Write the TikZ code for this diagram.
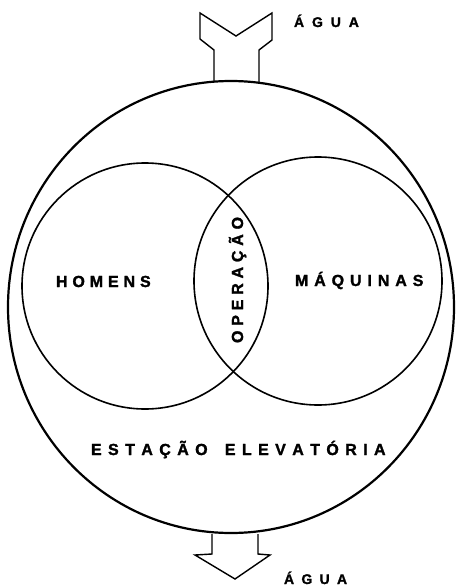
\documentclass[tikz,border=0pt]{standalone}
\usepackage{fontspec}
\usetikzlibrary{shapes.geometric}
\newfontfamily\lettering{Liberation Sans Bold}[FakeBold=1.6]
\newlength\lsp
\setlength\lsp{5.5pt}
\newcommand\spaced[1]{\spacedi#1\relax}
\def\spacedi#1{\ifx#1\relax\else#1\kern\lsp\expandafter\spacedi\fi}
\begin{document}
\begin{tikzpicture}[x=1pt,y=-1pt,
  lbl/.style={inner sep=0pt,outer sep=0pt,anchor=base west,
    font=\lettering\bfseries\fontsize{16}{17}\selectfont},
  smalllbl/.style={lbl,font=\lettering\bfseries\fontsize{14}{15}\selectfont},
  setc/.style={circle,draw,line width=1.6pt,inner sep=0pt,outer sep=0pt,minimum size=#1},
  outer/.style={ellipse,draw,line width=2.2pt,inner sep=0pt,outer sep=0pt},
  pipe/.style={line width=1.4pt,line join=miter}]
\useasboundingbox (0,0) rectangle (455,586);
% outer station
\node[outer,minimum width=446pt,minimum height=452pt] (station) at (231,307) {};
% sets
\node[setc=246pt] (homensc) at (145,286) {};
\node[setc=248pt] (maqc) at (318,281) {};
% inlet (top)
\coordinate (inl) at (214,82);
\coordinate (inr) at (259,82);
\draw[pipe] (inl) -- (214,50) -- (200,39) -- (200,13) -- (236,36) -- (272,13)
  -- (272,40) -- (259,50) -- (inr);
% outlet (bottom)
\coordinate (outl) at (212,534);
\coordinate (outr) at (258,534);
\draw[pipe] (outl) -- (212,554) -- (195,555) -- (235,579) -- (270,555)
  -- (258,554) -- (outr);
% labels
\node[smalllbl] (aguatop) at (294,27) {\setlength\lsp{7.9pt}\spaced{ÁGUA}};
\node[smalllbl] (aguabot) at (284,584) {\setlength\lsp{7.3pt}\spaced{ÁGUA}};
\node[lbl] (homens) at (56,287) {\setlength\lsp{4.9pt}\spaced{HOMENS}};
\node[lbl] (maquinas) at (295,286) {\setlength\lsp{5.9pt}\spaced{MÁQUINAS}};
\node[lbl,rotate=90] (operacao) at (243,343) {\setlength\lsp{4.8pt}\spaced{OPERAÇÃO}};
\node[lbl] (estacao) at (91,455) {\setlength\lsp{6.4pt}\spaced{ESTAÇÃO~ELEVATÓRIA}};
\end{tikzpicture}
\end{document}
